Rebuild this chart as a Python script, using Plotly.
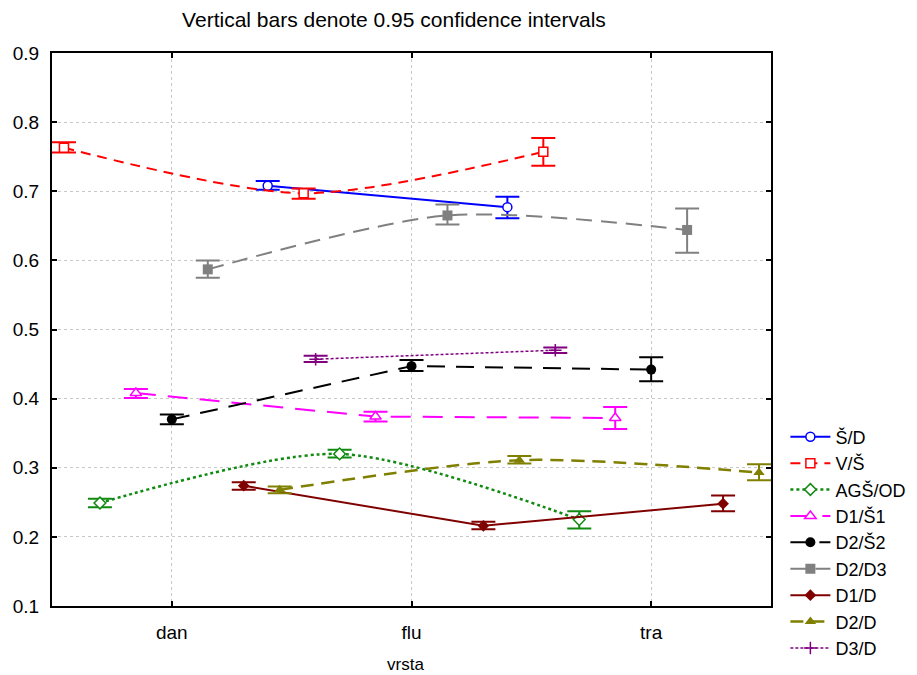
import plotly.graph_objects as go

categories = ["dan", "flu", "tra"]

series_names = ["Š/D", "V/Š", "AGŠ/OD", "D1/Š1", "D2/Š2", "D2/D3", "D1/D", "D2/D", "D3/D"]

# category membership and horizontal offset (in category units) of each series
cats_SD = ["flu", "tra"]
cats_VS = ["dan", "flu", "tra"]
cats_AGS = ["dan", "flu", "tra"]
cats_D1S1 = ["dan", "flu", "tra"]
cats_D2S2 = ["dan", "flu", "tra"]
cats_D2D3 = ["dan", "flu", "tra"]
cats_D1D = ["dan", "flu", "tra"]
cats_D2D = ["dan", "flu", "tra"]
cats_D3D = ["dan", "flu"]

offsets = [-0.6, -0.45, -0.3, -0.15, 0.0, 0.15, 0.3, 0.45, 0.6]

# means
y_SD = [0.708, 0.677]
y_VS = [0.763, 0.697, 0.757]
y_AGS = [0.249, 0.320, 0.225]
y_D1S1 = [0.408, 0.374, 0.372]
y_D2S2 = [0.370, 0.447, 0.442]
y_D2D3 = [0.587, 0.665, 0.644]
y_D1D = [0.274, 0.216, 0.248]
y_D2D = [0.268, 0.311, 0.293]
y_D3D = [0.457, 0.470]

# 95% CI upper / lower
hi_SD = [0.715, 0.692]
lo_SD = [0.702, 0.661]
hi_VS = [0.771, 0.704, 0.777]
lo_VS = [0.756, 0.689, 0.737]
hi_AGS = [0.255, 0.326, 0.237]
lo_AGS = [0.243, 0.315, 0.212]
hi_D1S1 = [0.414, 0.381, 0.388]
lo_D1S1 = [0.401, 0.367, 0.356]
hi_D2S2 = [0.377, 0.456, 0.460]
lo_D2S2 = [0.363, 0.440, 0.425]
hi_D2D3 = [0.600, 0.681, 0.675]
lo_D2D3 = [0.575, 0.652, 0.611]
hi_D1D = [0.279, 0.222, 0.260]
lo_D1D = [0.268, 0.211, 0.237]
hi_D2D = [0.273, 0.317, 0.305]
lo_D2D = [0.263, 0.306, 0.282]
hi_D3D = [0.462, 0.474]
lo_D3D = [0.453, 0.466]

all_cats = [cats_SD, cats_VS, cats_AGS, cats_D1S1, cats_D2S2, cats_D2D3, cats_D1D, cats_D2D, cats_D3D]
all_y = [y_SD, y_VS, y_AGS, y_D1S1, y_D2S2, y_D2D3, y_D1D, y_D2D, y_D3D]
all_hi = [hi_SD, hi_VS, hi_AGS, hi_D1S1, hi_D2S2, hi_D2D3, hi_D1D, hi_D2D, hi_D3D]
all_lo = [lo_SD, lo_VS, lo_AGS, lo_D1S1, lo_D2S2, lo_D2D3, lo_D1D, lo_D2D, lo_D3D]

colors = ["#0000FF", "#FF0000", "#108A10", "#FF00FF", "#000000", "#808080", "#800000", "#808000", "#800080"]
dashes = ["solid", "10px,7px", "dot", "20px,12px", "18px,11px", "16px,9px", "solid", "13px,8px", "3px,2px"]
widths = [2, 2, 2.5, 2, 2, 2, 2, 2.5, 1.5]
shapes = ["linear", "spline", "spline", "linear", "linear", "spline", "linear", "spline", "linear"]
symbols = ["circle", "square", "diamond", "triangle-up", "circle", "square", "diamond", "triangle-up", "cross-thin"]
open_marker = [True, True, True, True, False, False, False, False, False]
msizes = [9, 9, 9, 10, 10, 10, 9, 10, 9]

fig = go.Figure()
for i, name in enumerate(series_names):
    xs = [categories.index(c) + offsets[i] for c in all_cats[i]]
    ys = all_y[i]
    up = [h - v for h, v in zip(all_hi[i], ys)]
    dn = [v - l for v, l in zip(ys, all_lo[i])]
    c = colors[i]
    if open_marker[i]:
        marker = dict(symbol=symbols[i], size=msizes[i], color="white", line=dict(color=c, width=1.5))
    elif symbols[i] == "cross-thin":
        marker = dict(symbol=symbols[i], size=msizes[i], color=c, line=dict(color=c, width=1.5))
    else:
        marker = dict(symbol=symbols[i], size=msizes[i], color=c, line=dict(color=c, width=0))
    fig.add_trace(go.Scatter(
        x=xs, y=ys, name=name, mode="lines+markers",
        line=dict(color=c, dash=dashes[i], width=widths[i], shape=shapes[i], smoothing=0.8),
        marker=marker,
        error_y=dict(type="data", symmetric=False, array=up, arrayminus=dn,
                     color=c, thickness=2, width=12),
    ))

W, H = 909, 667
fig.update_layout(
    width=W, height=H,
    paper_bgcolor="white", plot_bgcolor="white",
    margin=dict(l=44, r=146, t=45, b=69, autoexpand=False),
    font=dict(family="Liberation Sans, Arial, sans-serif", size=19, color="black"),
    title=dict(text="Vertical bars denote 0.95 confidence intervals",
               x=(394 - 8) / W, xanchor="center", y=1 - (20 - 8) / H, yanchor="middle",
               font=dict(size=21)),
    showlegend=True,
    legend=dict(x=1.02, xanchor="left", y=0.339, yanchor="top",
                font=dict(size=18), itemwidth=40, bgcolor="rgba(0,0,0,0)",
                tracegroupgap=0),
    annotations=[dict(text="vrsta", xref="paper", yref="paper", x=0.492, y=-0.105,
                      xanchor="center", yanchor="middle", showarrow=False,
                      font=dict(size=17))],
)

fig.update_xaxes(
    range=[-0.5, 2.5], tickmode="array", tickvals=[0, 1, 2], ticktext=categories,
    showline=True, linecolor="black", linewidth=2, mirror="ticks",
    ticks="inside", ticklen=5, tickcolor="black", tickwidth=1.5,
    showgrid=True, gridcolor="#c8c8c8", griddash="dot", gridwidth=1,
    zeroline=False, automargin=False, ticklabelstandoff=8,
    tickfont=dict(size=19),
)
fig.update_yaxes(
    range=[0.1, 0.9], tickmode="array", tickvals=[0.1, 0.2, 0.3, 0.4, 0.5, 0.6, 0.7, 0.8, 0.9],
    ticktext=["0.1", "0.2", "0.3", "0.4", "0.5", "0.6", "0.7", "0.8", "0.9"],
    showline=True, linecolor="black", linewidth=2, mirror="ticks",
    ticks="inside", ticklen=5, tickcolor="black", tickwidth=1.5,
    showgrid=True, gridcolor="#c8c8c8", griddash="dot", gridwidth=1,
    zeroline=False, automargin=False, ticklabelstandoff=7,
    tickfont=dict(size=19),
)

fig.write_html("out.html")
